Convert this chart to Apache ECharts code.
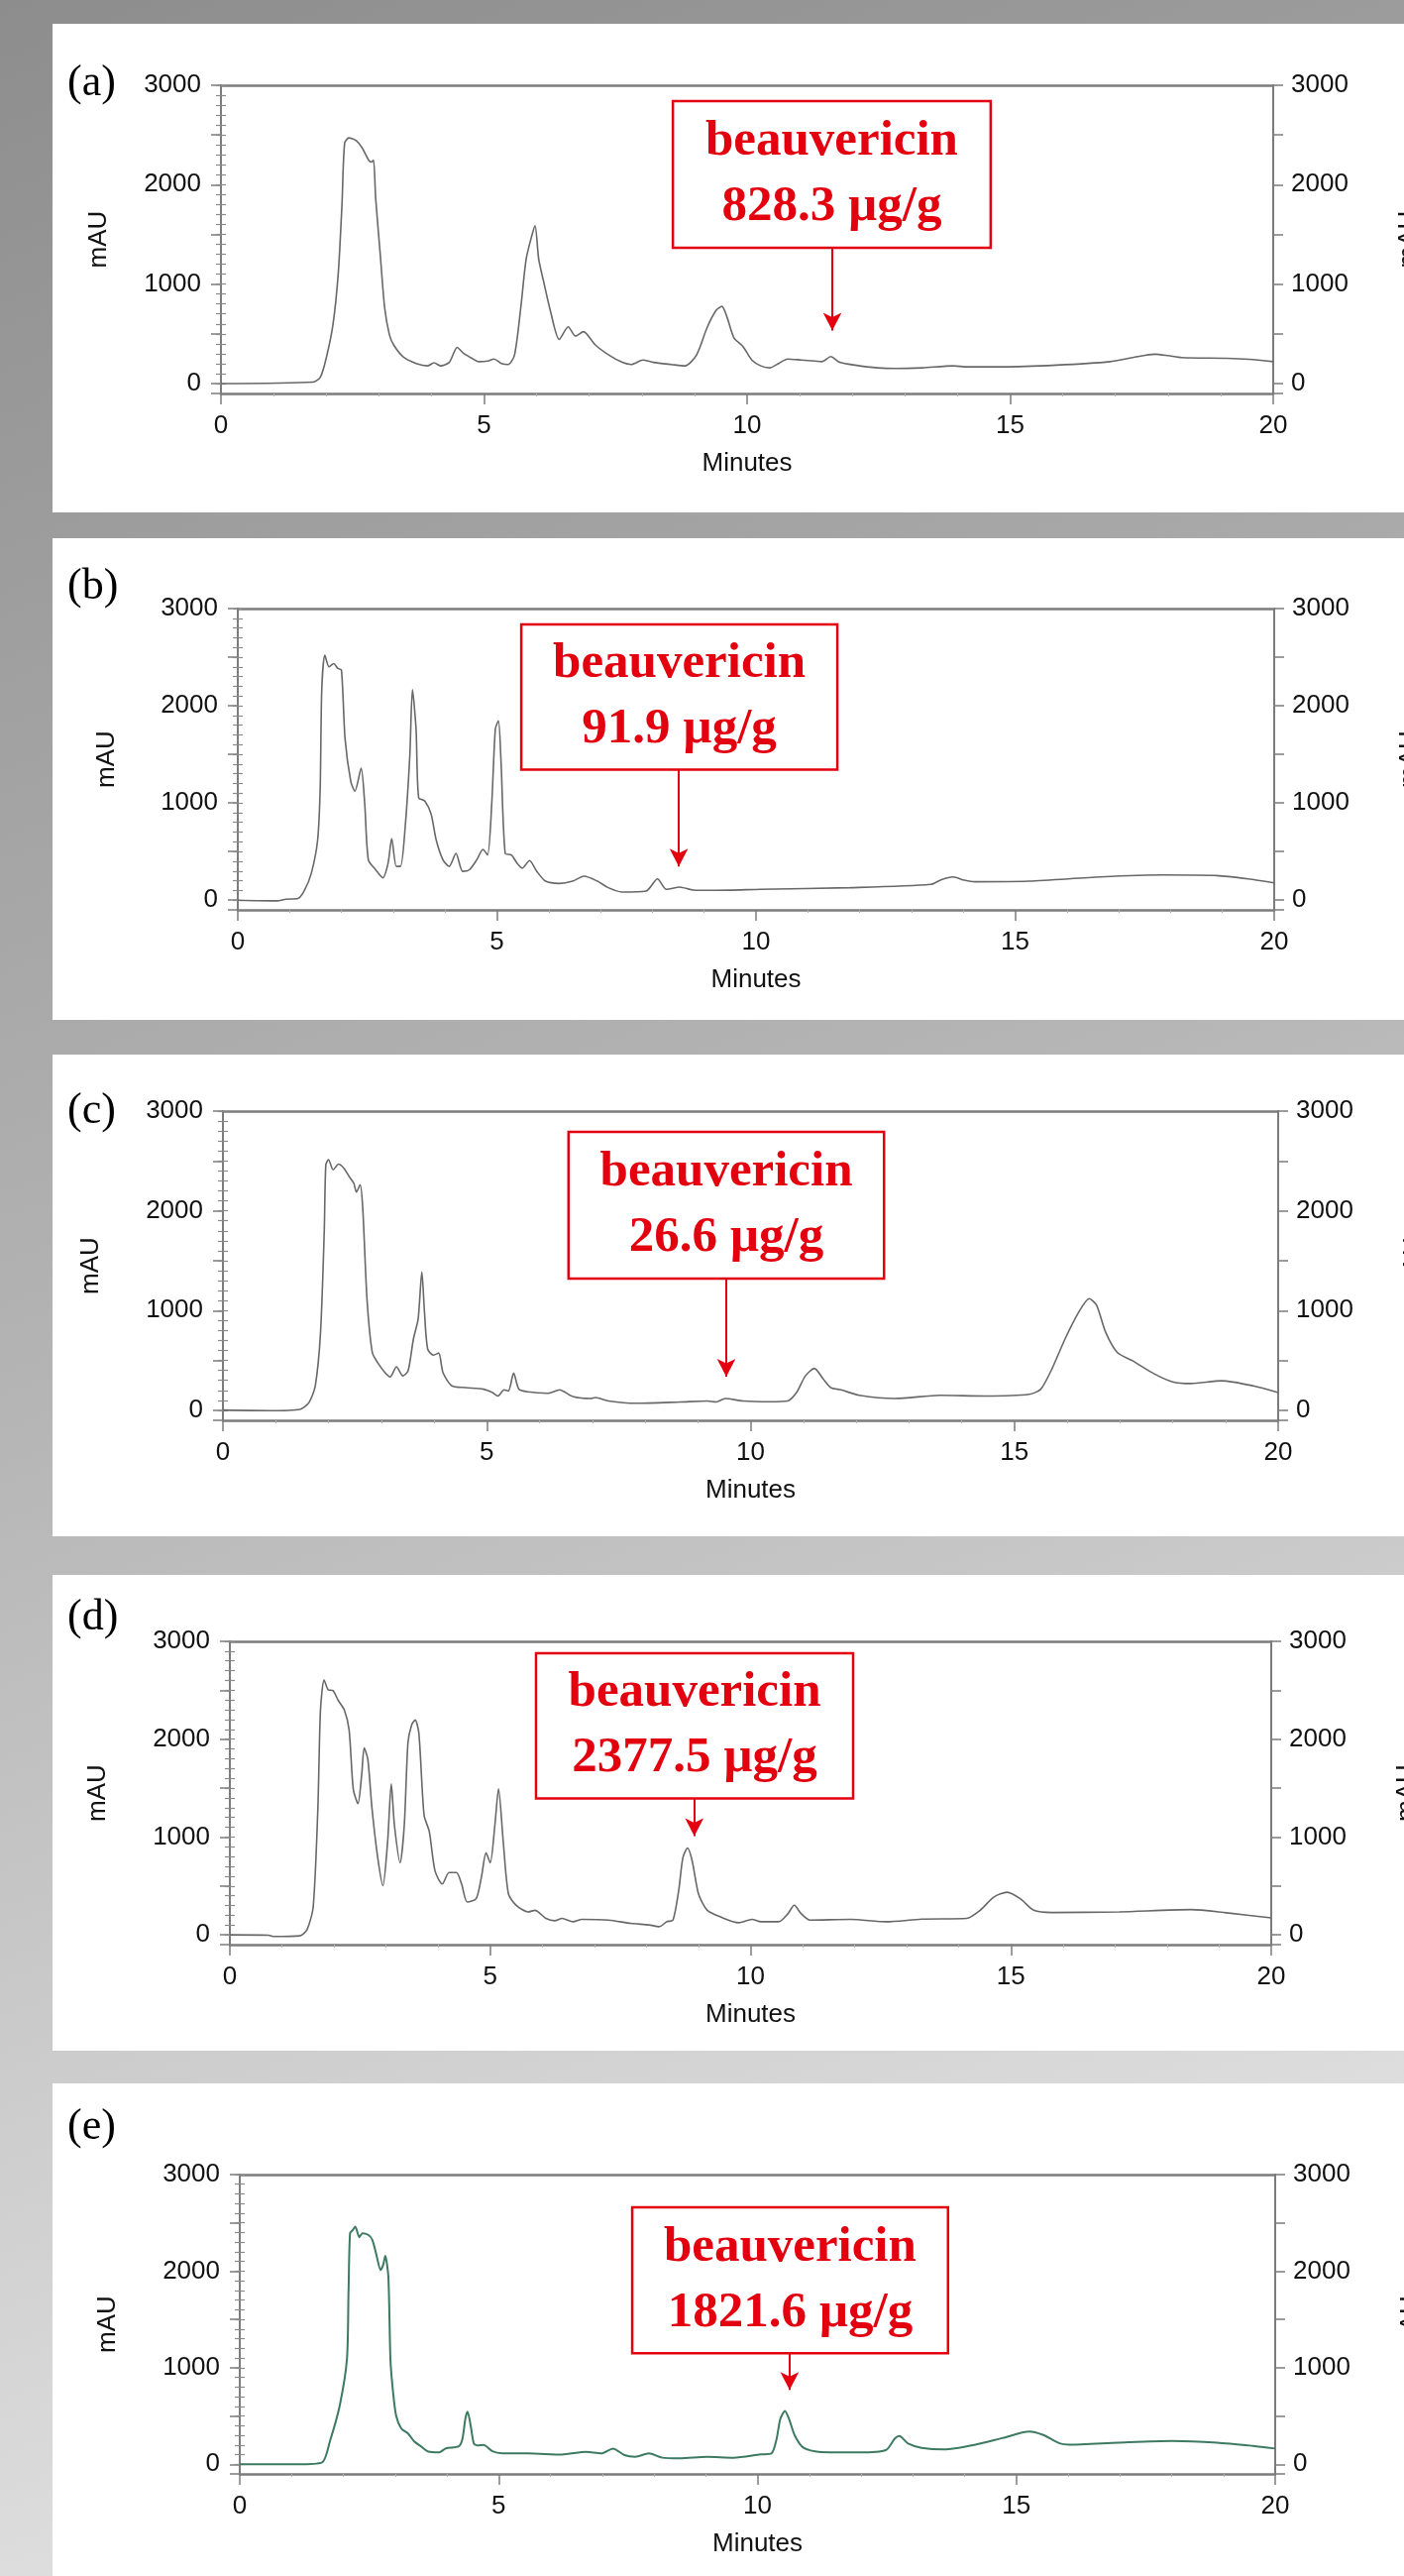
<!DOCTYPE html>
<html><head><meta charset="utf-8">
<script src="https://cdn.jsdelivr.net/npm/echarts@6/dist/echarts.min.js"></script>
<style>
html,body{margin:0;padding:0;}
body{width:1417px;height:2599px;background:linear-gradient(160deg,#8d8d8d 0%,#b4b4b4 45%,#eeeeee 100%);overflow:hidden;}
#chart{width:1417px;height:2599px;}
</style></head><body><div id="chart"></div>
<script>
// ---------- DATA ----------
const panelLabels = ['(a)', '(b)', '(c)', '(d)', '(e)'];
const compoundName = 'beauvericin';
const concentrations = ['828.3 µg/g', '91.9 µg/g', '26.6 µg/g', '2377.5 µg/g', '1821.6 µg/g'];
const xTickLabels = [0, 5, 10, 15, 20];
const yLabelValues = [0, 1000, 2000, 3000];
const yMajorTicks = [-100, 0, 500, 1000, 1500, 2000, 2500, 3000];
const yMinorTicks = [0, 100, 200, 300, 400, 500, 600, 700, 800, 900, 1000, 1100, 1200, 1300, 1400, 1500, 1600, 1700, 1800, 1900, 2000, 2100, 2200, 2300, 2400, 2500, 2600, 2700, 2800, 2900, 3000];

// chromatograms [minutes, mAU]
const traceA = [[0,0],[1.75,14],[1.89,65],[2.0,254],[2.13,597],[2.23,1112],[2.3,1798],[2.35,2416],[2.43,2470],[2.57,2444],[2.69,2365],[2.81,2245],[2.86,2228],[2.9,2248],[2.94,1867],[3.03,1284],[3.11,769],[3.2,494],[3.28,391],[3.46,271],[3.71,202],[3.93,178],[4.05,209],[4.17,178],[4.34,213],[4.49,364],[4.61,305],[4.77,254],[4.9,220],[5.07,226],[5.19,247],[5.33,202],[5.46,192],[5.58,288],[5.7,769],[5.8,1249],[5.91,1490],[5.97,1586],[6.04,1249],[6.14,1009],[6.26,734],[6.43,443],[6.6,570],[6.74,477],[6.89,522],[7.11,391],[7.37,288],[7.63,213],[7.8,192],[8.02,237],[8.22,213],[8.56,192],[8.82,178],[9.04,288],[9.24,563],[9.41,734],[9.52,776],[9.62,666],[9.75,460],[9.92,374],[10.09,237],[10.26,178],[10.43,158],[10.6,202],[10.77,247],[11.03,237],[11.29,226],[11.42,220],[11.59,271],[11.76,213],[12.05,185],[12.48,158],[12.82,151],[13.33,158],[13.92,178],[14.18,168],[14.86,168],[15.88,185],[16.9,220],[17.33,261],[17.75,295],[18.0,281],[18.26,261],[19.11,254],[19.54,244],[20,220]];
const traceB = [[0,0],[0.76,-7],[0.93,10],[1.16,17],[1.28,94],[1.42,279],[1.54,616],[1.59,1155],[1.62,2165],[1.68,2519],[1.76,2401],[1.85,2434],[1.93,2384],[2.0,2367],[2.07,1660],[2.18,1222],[2.26,1121],[2.38,1357],[2.45,987],[2.52,414],[2.66,313],[2.8,229],[2.9,380],[2.97,633],[3.06,347],[3.14,347],[3.23,751],[3.32,1492],[3.37,2165],[3.44,1761],[3.49,1054],[3.61,1020],[3.73,886],[3.83,616],[3.96,414],[4.08,347],[4.21,481],[4.34,296],[4.47,313],[4.61,414],[4.73,522],[4.82,465],[4.9,987],[4.97,1761],[5.03,1845],[5.08,1424],[5.16,481],[5.28,465],[5.39,380],[5.49,330],[5.63,407],[5.77,296],[5.94,195],[6.2,172],[6.46,195],[6.68,246],[6.94,195],[7.15,128],[7.41,84],[7.88,94],[8.1,219],[8.27,111],[8.53,135],[8.79,104],[9.22,101],[10.09,111],[11.81,128],[13.37,162],[13.58,212],[13.8,239],[14.02,205],[14.23,189],[15.27,195],[16.65,239],[17.86,259],[18.89,253],[19.5,219],[20,178]];
const traceC = [[0,3],[0.87,-3],[1.46,10],[1.63,77],[1.75,245],[1.85,783],[1.92,1790],[1.95,2462],[2.0,2513],[2.09,2412],[2.19,2469],[2.29,2429],[2.39,2345],[2.48,2277],[2.53,2187],[2.6,2261],[2.65,2026],[2.73,1119],[2.83,581],[2.93,480],[3.07,380],[3.17,336],[3.29,437],[3.41,346],[3.51,396],[3.61,715],[3.7,917],[3.77,1387],[3.82,984],[3.88,615],[3.99,554],[4.09,574],[4.17,380],[4.34,245],[4.6,228],[4.94,212],[5.11,178],[5.21,144],[5.33,205],[5.41,195],[5.51,373],[5.61,212],[5.78,185],[6.16,171],[6.38,205],[6.63,138],[6.97,118],[7.06,128],[7.31,94],[7.82,71],[8.67,84],[9.18,94],[9.35,84],[9.52,118],[9.86,94],[10.36,87],[10.7,94],[10.87,178],[11.04,346],[11.21,420],[11.38,312],[11.52,228],[11.72,205],[12.06,151],[12.74,118],[13.59,151],[14.44,144],[15.28,161],[15.5,212],[15.71,413],[15.96,715],[16.22,984],[16.42,1119],[16.56,1051],[16.73,783],[16.95,581],[17.24,497],[17.66,363],[18.0,286],[18.34,269],[18.93,296],[19.53,245],[20,178]];
const traceD = [[0,0],[0.74,-3],[0.83,-17],[1.34,-10],[1.48,50],[1.6,285],[1.69,1290],[1.74,2296],[1.81,2605],[1.89,2504],[1.98,2497],[2.08,2397],[2.2,2296],[2.29,2095],[2.37,1492],[2.46,1341],[2.53,1626],[2.58,1911],[2.65,1793],[2.73,1290],[2.84,788],[2.94,503],[3.03,955],[3.1,1542],[3.16,1123],[3.27,737],[3.35,1123],[3.42,1961],[3.49,2145],[3.56,2196],[3.63,2061],[3.73,1223],[3.83,1056],[3.94,654],[4.08,520],[4.21,637],[4.35,637],[4.45,520],[4.56,335],[4.73,369],[4.83,587],[4.92,838],[5.0,737],[5.09,1123],[5.16,1492],[5.25,955],[5.35,419],[5.5,302],[5.73,235],[5.86,251],[6.07,168],[6.24,144],[6.38,168],[6.59,134],[6.76,158],[7.27,151],[7.7,117],[8.05,101],[8.25,84],[8.39,134],[8.51,151],[8.62,453],[8.7,788],[8.79,888],[8.88,754],[9.0,419],[9.17,251],[9.42,184],[9.77,124],[10.03,158],[10.2,134],[10.54,134],[10.72,218],[10.84,302],[10.97,218],[11.14,151],[11.92,158],[12.61,134],[13.29,161],[14.15,168],[14.41,251],[14.67,385],[14.93,436],[15.18,369],[15.44,251],[15.79,228],[17.08,235],[18.46,258],[19.14,225],[20,174]];
const traceE = [[0,0],[1.11,0],[1.59,20],[1.74,236],[1.93,606],[2.07,1089],[2.1,1777],[2.13,2393],[2.18,2424],[2.23,2460],[2.31,2352],[2.37,2393],[2.48,2376],[2.56,2325],[2.64,2167],[2.72,2013],[2.77,2064],[2.81,2157],[2.87,1941],[2.91,1089],[2.96,750],[3.02,503],[3.12,370],[3.25,318],[3.37,236],[3.5,185],[3.63,134],[3.85,123],[3.98,164],[4.23,185],[4.3,262],[4.36,480],[4.4,545],[4.46,400],[4.52,216],[4.59,195],[4.71,200],[4.88,134],[5.07,113],[5.57,113],[6.22,100],[6.69,129],[6.98,112],[7.21,163],[7.43,95],[7.64,78],[7.9,112],[8.16,68],[8.5,61],[9.02,78],[9.54,68],[10.06,102],[10.27,112],[10.37,264],[10.44,468],[10.53,553],[10.61,468],[10.72,298],[10.89,170],[11.18,129],[11.96,122],[12.48,146],[12.65,264],[12.74,292],[12.91,214],[13.17,170],[13.6,153],[14.21,203],[14.73,271],[15.25,339],[15.51,305],[15.85,214],[16.02,203],[16.97,224],[18.01,241],[18.88,224],[19.57,190],[20,163]];
const traces = [traceA, traceB, traceC, traceD, traceE];

// annotation (data coordinates)
const arrowTime = [11.62, 8.51, 9.54, 8.92, 10.62];
const arrowTipValue = [443, 254, 248, 919, 678];
const boxTimeRange = [[8.59, 14.63], [5.47, 11.57], [6.55, 12.53], [5.88, 11.97], [7.58, 13.68]];
const boxValueRange = [[1366, 2841], [1342, 2837], [1321, 2791], [1394, 2879], [1151, 2661]];

// ---------- LAYOUT / STYLE ----------
const layout = [
  {gl:223, gr:1285, gt:86,   gb:397,  py0:24,   py1:517,  labelY:87,   mauX:100},
  {gl:240, gr:1286, gt:614,  gb:918,  py0:543,  py1:1029, labelY:595,  mauX:108},
  {gl:225, gr:1290, gt:1121, gb:1433, py0:1064, py1:1550, labelY:1124, mauX:92},
  {gl:232, gr:1283, gt:1656, gb:1962, py0:1589, py1:2069, labelY:1635, mauX:99},
  {gl:242, gr:1287, gt:2194, gb:2496, py0:2102, py1:2599, labelY:2149, mauX:109}
];
const lineColors = ['#686868', '#686868', '#686868', '#686868', '#3d7a62'];
const AXIS_COLOR = '#7c7c7c';
const SANS = '"Liberation Sans", Arial, sans-serif';
const SERIF = '"Liberation Serif", "Times New Roman", serif';
const RED = '#e3000f';
const plain = v => String(v);

const grids = [], xAxes = [], yAxes = [], series = [], graphics = [];

layout.forEach((L, i) => {
  grids.push({left: L.gl, top: L.gt, width: L.gr - L.gl, height: L.gb - L.gt, containLabel: false});
  // bottom x axis
  xAxes.push({
    type: 'value', gridIndex: i, position: 'bottom', min: 0, max: 20, interval: 5,
    axisLine: {onZero: false, lineStyle: {color: AXIS_COLOR, width: 2.5}},
    axisTick: {show: true, length: 11, lineStyle: {color: AXIS_COLOR, width: 1.5}},
    minorTick: {show: true, splitNumber: 5, length: 3, lineStyle: {color: '#b0b0b0', width: 1}},
    axisLabel: {customValues: xTickLabels, formatter: plain, margin: 20, fontSize: 26, color: '#111', fontFamily: SANS},
    splitLine: {show: false},
    name: 'Minutes', nameLocation: 'middle', nameGap: 71,
    nameTextStyle: {fontSize: 26, color: '#111', fontFamily: SANS, verticalAlign: 'middle'}
  });
  // top border
  xAxes.push({
    type: 'value', gridIndex: i, position: 'top', min: 0, max: 20,
    axisLine: {onZero: false, lineStyle: {color: AXIS_COLOR, width: 2.5}},
    axisTick: {show: false}, axisLabel: {show: false}, splitLine: {show: false}
  });
  const base = {type: 'value', gridIndex: i, min: -100, max: 3000, splitLine: {show: false}};
  ['left', 'right'].forEach(pos => {
    yAxes.push(Object.assign({}, base, {
      position: pos,
      axisLine: {show: true, onZero: false, lineStyle: {color: AXIS_COLOR, width: 2}},
      axisTick: {show: true, customValues: yMajorTicks, length: 10, lineStyle: {color: AXIS_COLOR, width: 1.5}},
      axisLabel: {customValues: yLabelValues, formatter: plain, margin: pos === 'left' ? 20 : 18, fontSize: 26, color: '#111', fontFamily: SANS}
    }));
    yAxes.push(Object.assign({}, base, {
      position: pos,
      axisLine: {show: false},
      axisTick: {show: true, customValues: yMinorTicks, length: 5, lineStyle: {color: '#8a8a8a', width: 1.2}},
      axisLabel: {show: false}
    }));
  });

  const pxPerUnit = (L.gb - L.gt) / 3100;
  series.push({
    type: 'line', xAxisIndex: 2 * i, yAxisIndex: 4 * i,
    data: traces[i], showSymbol: false, smooth: 0.25, animation: false,
    lineStyle: {color: lineColors[i], width: i === 4 ? 2 : 1.6},
    silent: true,
    markArea: {
      silent: true,
      itemStyle: {color: '#ffffff', borderColor: RED, borderWidth: 2.5},
      label: {
        show: true, position: 'inside',
        formatter: '{n|' + compoundName + '}\n{c|' + concentrations[i] + '}',
        rich: {
          n: {fontFamily: SERIF, fontWeight: 'bold', fontSize: 51, color: RED, lineHeight: 66},
          c: {fontFamily: SERIF, fontWeight: 'bold', fontSize: 51, color: RED, lineHeight: 66}
        }
      },
      data: [[
        {coord: [boxTimeRange[i][0], boxValueRange[i][1]]},
        {coord: [boxTimeRange[i][1], boxValueRange[i][0]]}
      ]]
    },
    markLine: {
      silent: true, animation: false,
      symbol: ['none', 'arrow'],
      lineStyle: {color: RED, width: 2, type: 'solid'},
      label: {show: false},
      data: [[
        {coord: [arrowTime[i], boxValueRange[i][0]], symbol: 'none'},
        {coord: [arrowTime[i], arrowTipValue[i] + 9 / pxPerUnit], symbol: 'arrow', symbolSize: [14, 18]}
      ]]
    }
  });

  // panel background
  graphics.push({type: 'rect', z: -10, shape: {x: 53, y: L.py0, width: 1417 - 53, height: L.py1 - L.py0}, style: {fill: '#ffffff'}});
  // panel letter
  graphics.push({type: 'text', z: 10, style: {text: panelLabels[i], x: 68, y: L.labelY - 3, font: '44px ' + SERIF, fill: '#000', textVerticalAlign: 'middle', verticalAlign: 'middle'}});
  // y axis titles
  const midY = (L.gt + L.gb) / 2;
  graphics.push({type: 'text', z: 10, x: L.mauX, y: midY, rotation: Math.PI / 2,
    style: {text: 'mAU', x: 0, y: 0, font: '26px ' + SANS, fill: '#111', textAlign: 'center', align: 'center', textVerticalAlign: 'middle', verticalAlign: 'middle'}});
  graphics.push({type: 'text', z: 10, x: L.gr + 137, y: midY, rotation: Math.PI / 2,
    style: {text: 'mAU', x: 0, y: 0, font: '26px ' + SANS, fill: '#111', textAlign: 'center', align: 'center', textVerticalAlign: 'middle', verticalAlign: 'middle'}});
});

const chart = echarts.init(document.getElementById('chart'), null, {renderer: 'canvas', width: 1417, height: 2599});
chart.setOption({
  animation: false,
  grid: grids, xAxis: xAxes, yAxis: yAxes, series: series,
  graphic: {elements: graphics}
});
</script></body></html>
